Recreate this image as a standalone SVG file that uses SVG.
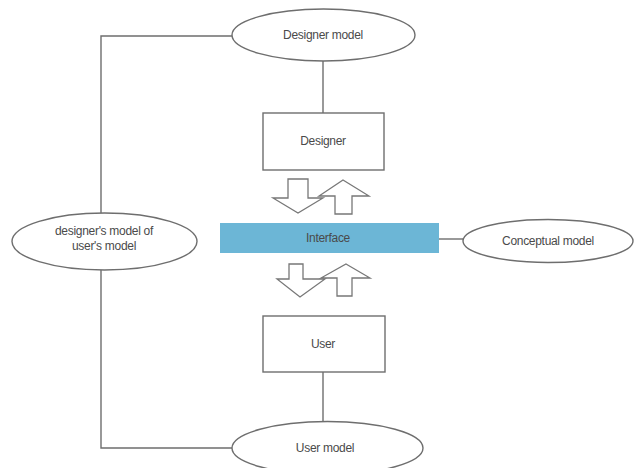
<svg xmlns="http://www.w3.org/2000/svg" width="639" height="468" viewBox="0 0 639 468">
  <style>
    .ln { fill: none; stroke: #6e6e6e; stroke-width: 1.4; }
    .shape { fill: #ffffff; stroke: #6e6e6e; stroke-width: 1.4; }
    .arrow { fill: #ffffff; stroke: #777777; stroke-width: 1.3; stroke-linejoin: miter; }
    .lbl { font-family: "Liberation Sans", Arial, sans-serif; font-size: 12px; fill: #4a4a4a; text-anchor: middle; letter-spacing: -0.3px; }
  </style>
  <rect width="639" height="468" fill="#ffffff"/>

  <!-- connectors -->
  <g id="connectors">
    <polyline class="ln" points="232,36 101,36 101,213"/>
    <polyline class="ln" points="101,270 101,448 232,448"/>
    <line class="ln" x1="323" y1="61" x2="323" y2="113"/>
    <line class="ln" x1="323" y1="372" x2="323" y2="422"/>
    <line class="ln" x1="439" y1="239" x2="463" y2="239"/>
  </g>

  <!-- exchange arrows between designer / interface / user -->
  <g id="arrows-top">
    <polygon class="arrow" points="288,179 308,179 308,198 323,198 298,213 273,198 288,198"/>
    <polygon class="arrow" points="343,180 369,196 352,196 352,214 335,214 335,196 319,196"/>
  </g>
  <g id="arrows-bottom">
    <polygon class="arrow" points="289,264 303,264 303,279 325,279 300,297 277,279 289,279"/>
    <polygon class="arrow" points="346,264 370,278 352,278 352,296 337,296 337,278 321,278"/>
  </g>

  <g id="designer-model">
    <ellipse class="shape" cx="323.5" cy="35" rx="91.5" ry="26"/>
    <text class="lbl" x="323" y="39">Designer model</text>
  </g>

  <g id="designer">
    <rect class="shape" x="263" y="113" width="121" height="57"/>
    <text class="lbl" x="323" y="145">Designer</text>
  </g>

  <g id="interface">
    <rect x="220" y="223" width="219" height="30" fill="#6cb6d6"/>
    <text class="lbl" x="328" y="242" fill="#3f5b6b">Interface</text>
  </g>

  <g id="conceptual-model">
    <ellipse class="shape" cx="548" cy="241" rx="85" ry="21.5"/>
    <text class="lbl" x="548" y="245">Conceptual model</text>
  </g>

  <g id="designers-model-of-users-model">
    <ellipse class="shape" cx="104.5" cy="241.5" rx="92.5" ry="28.5"/>
    <text class="lbl" x="104" y="235">designer's model of</text>
    <text class="lbl" x="104" y="250">user's model</text>
  </g>

  <g id="user">
    <rect class="shape" x="263" y="316" width="122" height="56"/>
    <text class="lbl" x="323" y="348">User</text>
  </g>

  <g id="user-model">
    <ellipse class="shape" cx="327.5" cy="448" rx="95.5" ry="26.5"/>
    <text class="lbl" x="325" y="452">User model</text>
  </g>
</svg>
